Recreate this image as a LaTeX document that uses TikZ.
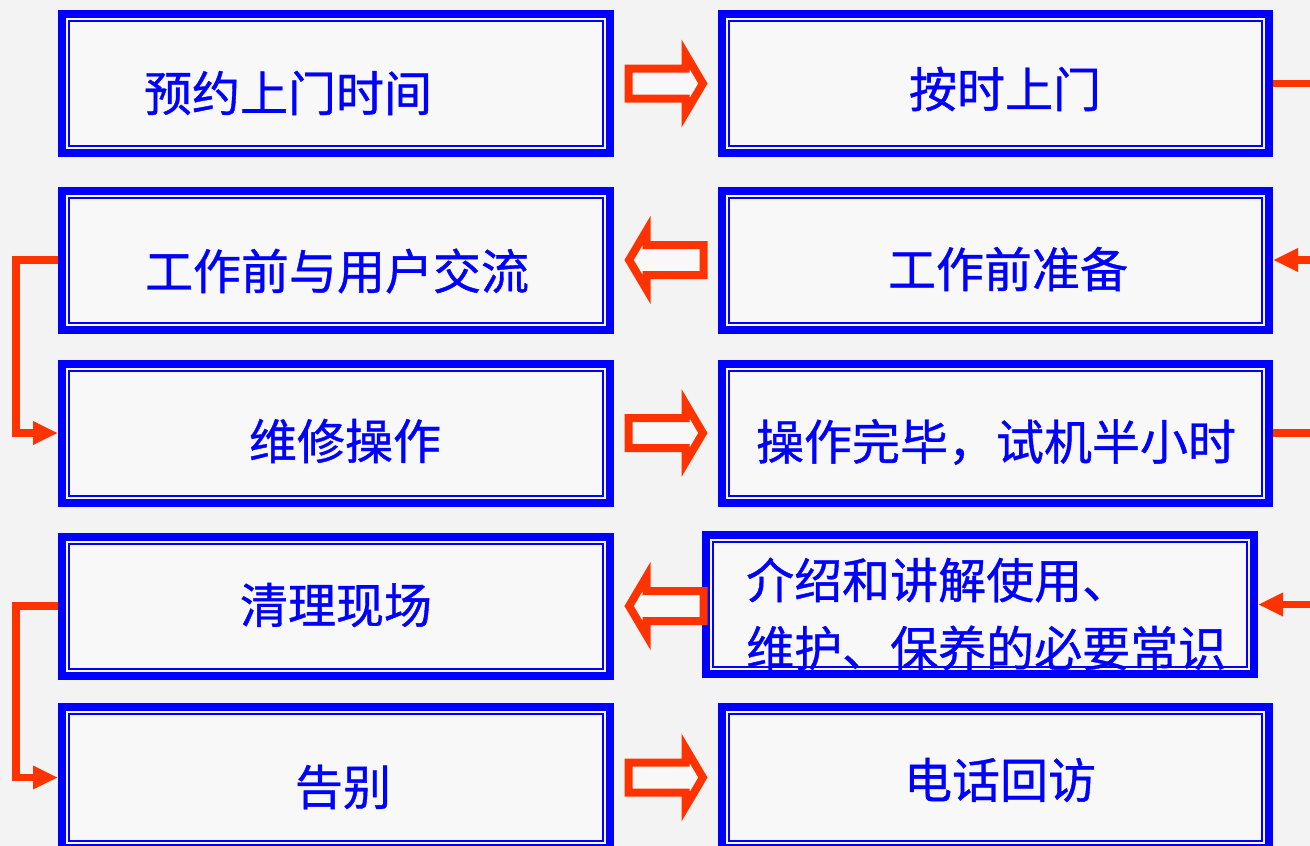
\documentclass[tikz,border=0pt]{standalone}
\usepackage{fontspec}
\newfontfamily\cjk[FakeBold=0.8]{Noto Sans CJK SC}
\usetikzlibrary{arrows.meta,calc}
\definecolor{frameblue}{HTML}{0000FF}
\definecolor{flowred}{HTML}{FF3300}
\definecolor{paper}{HTML}{F3F3F3}
\definecolor{boxfill}{HTML}{F8F8F8}
\tikzset{
  stepframe/.style={draw=frameblue, line width=8pt, fill=boxfill,
    minimum width=548pt, minimum height=139pt, inner sep=0pt},
  steptext/.style={text=frameblue, font=\cjk\fontsize{48}{68}\selectfont, inner sep=0pt},
  link/.style={draw=flowred, line width=7.5pt},
  linkto/.style={link, -{Triangle[length=25pt,width=22pt]}},
  fat/.style={draw=flowred, line width=8pt, fill=boxfill},
  fatarrow/.pic={
    \draw[fat] (-37.5,-15) -- (19.5,-15) -- (19.5,-29.4) -- (36.9,0)
      -- (19.5,29.4) -- (19.5,15) -- (-37.5,15) -- cycle;
  }
}
\begin{document}
\begin{tikzpicture}[x=1pt, y=-1pt]
    % Page
    \fill[paper] (0,0) rectangle (1310,846);
    \useasboundingbox (0,0) rectangle (1310,846);

    % Boxes
    \foreach \n/\y in {1/83.5, 2/260, 3/433} {
        \node[stepframe] (l\n) at (336,\y) {};
        \node[stepframe, minimum width=547pt] (r\n) at (995.5,\y) {};
    }
    \node[stepframe] (l4) at (336,606) {};
    \node[stepframe] (r4) at (980,604.5) {};
    \node[stepframe, minimum height=141pt] (l5) at (336,777.5) {};
    \node[stepframe, minimum width=547pt, minimum height=141pt] (r5) at (995.5,777.5) {};

    % Inner frames
    \foreach \b in {l1,l2,l3,l4,l5,r1,r2,r3,r4,r5} {
        \draw[frameblue, line width=2pt] ([shift={(11,11)}]\b.north west)
            rectangle ([shift={(-11,-11)}]\b.south east);
    }

    % Texts
    \node[steptext] (l1txt) at ([shift={(-48,9.5)}]l1.center) {预约上门时间};
    \node[steptext] (r1txt) at ([shift={(9.5,5.5)}]r1.center) {按时上门};
    \node[steptext] (l2txt) at ([shift={(1,11)}]l2.center) {工作前与用户交流};
    \node[steptext] (r2txt) at ([shift={(12.5,9)}]r2.center) {工作前准备};
    \node[steptext] (l3txt) at ([shift={(9,8)}]l3.center) {维修操作};
    \node[steptext] (r3txt) at ([shift={(0.5,9)}]r3.center) {操作完毕，试机半小时};
    \node[steptext] (l4txt) at ([shift={(0,-1)}]l4.center) {清理现场};
    \node[steptext, anchor=west, align=left] (r4txt) at ([shift={(44,9.5)}]r4.west)
        {介绍和讲解使用、\\维护、保养的必要常识};
    \node[steptext] (l5txt) at ([shift={(7,9.5)}]l5.center) {告别};
    \node[steptext] (r5txt) at ([shift={(4.5,2.5)}]r5.center) {电话回访};

    % Block arrows between the columns
    \coordinate (gap) at ($(l1.east)!.5!(r1.west)$);
    \pic at (l1.east -| gap) {fatarrow};
    \pic[xscale=-1] at (l2.east -| gap) {fatarrow};
    \pic at (l3.east -| gap) {fatarrow};
    \pic[xscale=-1] at (l4.east -| gap) {fatarrow};
    \pic at (l5.east -| gap) {fatarrow};

    % Left connectors
    \coordinate (lbus) at (16,0);
    \draw[linkto] (l2.west) -- (l2.west -| lbus) -- (l3.west -| lbus) -- (l3.west);
    \draw[linkto] (l4.west) -- (l4.west -| lbus) -- (l5.west -| lbus) -- (l5.west);

    % Right connectors
    \coordinate (rbus) at (1310,0);
    \draw[link] (r1.east) -- (r1.east -| rbus);
    \draw[linkto] (r2.east -| rbus) -- (r2.east);
    \draw[link] (r3.east) -- (r3.east -| rbus);
    \draw[linkto] (r4.east -| rbus) -- (r4.east);

\end{tikzpicture}
\end{document}
